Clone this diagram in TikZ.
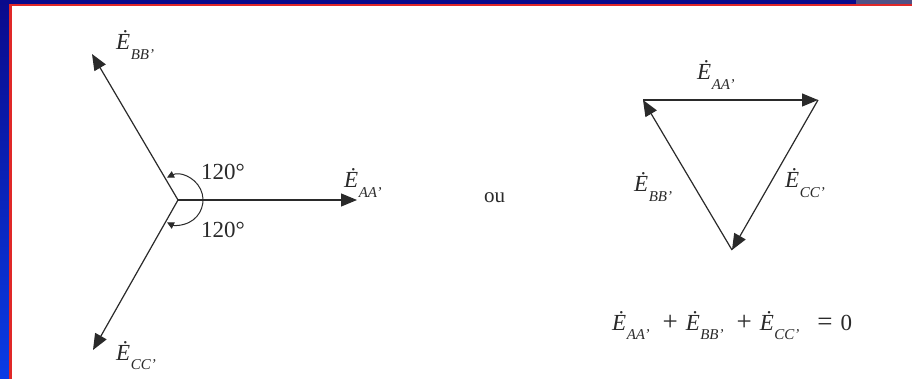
\documentclass[tikz,border=0pt]{standalone}
\usepackage{fontspec}
\setmainfont{Liberation Serif}
\usetikzlibrary{arrows.meta}
\definecolor{navy}{HTML}{0A0A8C}
\definecolor{brightblue}{HTML}{0A3CE6}
\definecolor{redline}{HTML}{E02828}
\definecolor{inkc}{HTML}{2A2A2A}
\newcommand{\EE}[1]{{\itshape Ė}\kern0.5pt\raisebox{-0.42em}{\fontsize{15}{15}\selectfont\itshape #1}}
\newcommand{\bigop}[1]{{\fontsize{27}{27}\selectfont #1}}
\tikzset{
  vec/.style={draw=inkc, line width=1.2pt, -{Triangle[length=16pt,width=13pt]}},
  angarc/.style={draw=inkc, line width=1pt, {Triangle[length=7pt,width=7pt]}-{Triangle[length=7pt,width=7pt]}},
  lab/.style={anchor=base west, inner sep=0pt, text=inkc, font=\fontsize{23}{23}\selectfont},
}
\begin{document}
\begin{tikzpicture}[x=1pt,y=-1pt]
\useasboundingbox (0,0) rectangle (912,379);
% background
\shade[top color=navy, bottom color=brightblue] (0,0) rectangle (11,379);
\fill[navy] (0,0) rectangle (912,5);
\fill[gray!60!navy] (856,0) rectangle (912,4);
\fill[white] (11,6) rectangle (912,379);
\fill[redline] (9,4) rectangle (912,6.5);
\fill[redline] (9,4) rectangle (11.5,379);
% star
\coordinate (O) at (178,200);
\coordinate (SA) at (357,200);
\coordinate (SB) at (92,54);
\coordinate (SC) at (93,350);
\draw[vec] (O) -- (SA);
\draw[vec] (O) -- (SB);
\draw[vec] (O) -- (SC);
\draw[angarc] (O) ++(-116:25) arc[start angle=-116, end angle=116, radius=25];
\node[lab] (lSA) at (344,188) {\EE{AA'}};
\node[lab] (lSB) at (116,50) {\EE{BB'}};
\node[lab] (lSC) at (116,360) {\EE{CC'}};
\node[lab] (a1) at (201,180) {120°};
\node[lab] (a2) at (201,237) {120°};
% ou
\node[lab, font=\fontsize{21}{21}\selectfont] (ou) at (484,203) {ou};
% triangle
\coordinate (T1) at (643,100);
\coordinate (T2) at (818,100);
\coordinate (T3) at (732,250);
\draw[vec] (T1) -- (T2);
\draw[vec] (T2) -- (T3);
\draw[vec] (T3) -- (T1);
\node[lab] (lTA) at (697,80) {\EE{AA'}};
\node[lab] (lTB) at (634,192) {\EE{BB'}};
\node[lab] (lTC) at (785,188) {\EE{CC'}};
% equation
\node[lab] (eq) at (612,330) {\EE{AA'}\hspace{13pt}\bigop{+}\hspace{8pt}\EE{BB'}\hspace{13pt}\bigop{+}\hspace{8pt}\EE{CC'}\hspace{18pt}\bigop{=}\hspace{8pt}0};
\end{tikzpicture}
\end{document}
